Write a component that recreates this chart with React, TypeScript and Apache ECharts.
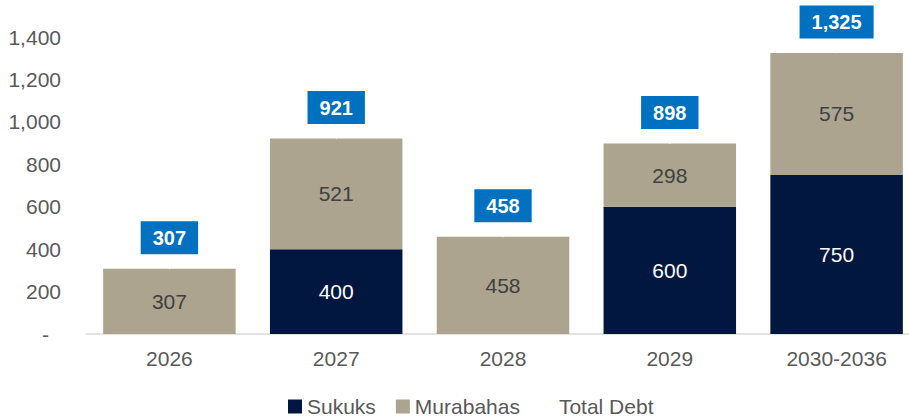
import React, { useEffect, useRef } from "react";
import * as echarts from "echarts";

const categories = ["2026", "2027", "2028", "2029", "2030-2036"];
const sukuks = [0, 400, 0, 600, 750];
const murabahas = [307, 521, 458, 298, 575];
const totalDebt = [307, 921, 458, 898, 1325];

const FONT = "'Liberation Sans', Arial, sans-serif";
const fmt = (v: number) => v.toLocaleString("en-US");

export default function App() {
  const ref = useRef<HTMLDivElement>(null);
  useEffect(() => {
    if (!ref.current) return;
    const chart = echarts.init(ref.current, undefined, { renderer: "svg" });
    chart.setOption({
      animation: false,
      textStyle: { fontFamily: FONT },
      grid: { left: 86, right: 0, top: 37, bottom: 85 },
      legend: {
        top: 391,
        left: 283,
        itemWidth: 14,
        itemHeight: 14,
        itemGap: 20,
        textStyle: { fontFamily: FONT, fontSize: 21, color: "#595959" },
        data: [
          { name: "Sukuks", icon: "rect" },
          { name: "Murabahas", icon: "rect" },
          { name: "Total Debt", icon: "rect", itemStyle: { color: "rgba(0,0,0,0)" } },
        ],
      },
      xAxis: {
        type: "category",
        data: categories,
        axisLine: { lineStyle: { color: "#D9D9D9", width: 1.5 } },
        axisTick: { show: false },
        axisLabel: { fontFamily: FONT, fontSize: 21, color: "#595959", margin: 14 },
      },
      yAxis: {
        type: "value",
        min: 0,
        max: 1400,
        interval: 200,
        splitLine: { show: false },
        axisLine: { show: false },
        axisTick: { show: false },
        axisLabel: {
          fontFamily: FONT,
          fontSize: 21,
          color: "#595959",
          margin: 25,
          formatter: (v: number) => (v === 0 ? "{d|-}" : fmt(v)),
          rich: { d: { fontFamily: FONT, fontSize: 21, color: "#595959", padding: [0, 12, 0, 0] } },
        },
      },
      series: [
        {
          name: "Sukuks",
          type: "bar",
          stack: "debt",
          barWidth: 132.5,
          data: sukuks,
          itemStyle: { color: "#01173F" },
          label: {
            show: true,
            position: "inside",
            fontFamily: FONT,
            fontSize: 21,
            color: "#FFFFFF",
            formatter: (p: any) => (p.value ? fmt(p.value) : ""),
          },
        },
        {
          name: "Murabahas",
          type: "bar",
          stack: "debt",
          barWidth: 132.5,
          data: murabahas,
          itemStyle: { color: "#ACA48E" },
          label: {
            show: true,
            position: "inside",
            fontFamily: FONT,
            fontSize: 21,
            color: "#404040",
            formatter: (p: any) => (p.value ? fmt(p.value) : ""),
          },
        },
        {
          name: "Total Debt",
          type: "line",
          data: totalDebt,
          lineStyle: { opacity: 0 },
          itemStyle: { color: "rgba(0,0,0,0)" },
          symbolSize: 1,
          label: {
            show: true,
            position: "top",
            distance: 13,
            fontFamily: FONT,
            fontSize: 20,
            fontWeight: "bold",
            color: "#FFFFFF",
            backgroundColor: "#0070C0",
            padding: [7, 12, 6, 12],
            formatter: (p: any) => fmt(p.value),
          },
        },
      ],
    });
    return () => chart.dispose();
  }, []);
  return (
    <div style={{ position: "absolute", left: 0, top: 0, width: 909, height: 419, overflow: "hidden", background: "#fff" }}>
      <div ref={ref} style={{ width: 920, height: 419 }} />
    </div>
  );
}
